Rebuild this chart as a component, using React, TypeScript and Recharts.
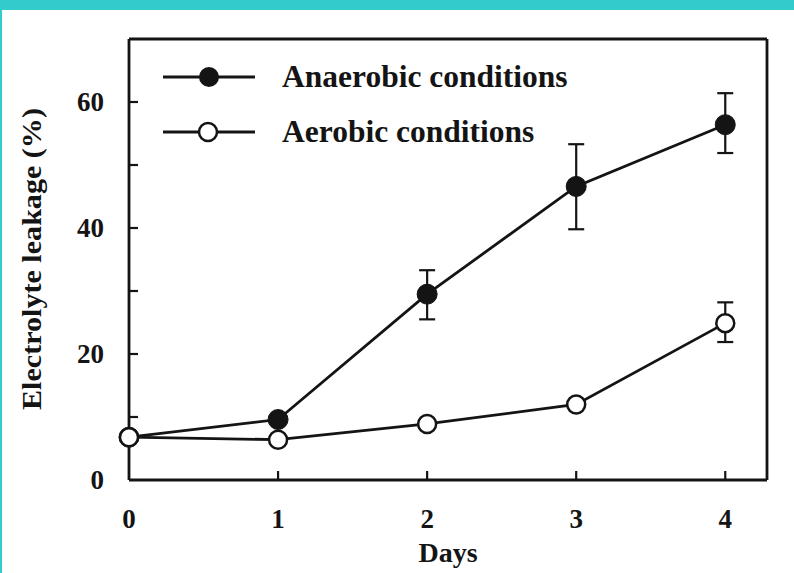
import React from 'react';
import { LineChart, Line, XAxis, YAxis, ErrorBar, ReferenceLine } from 'recharts';

const days = [0, 1, 2, 3, 4];
const anaerobic = [6.8, 9.6, 29.5, 46.6, 56.4];
const anaerobicErr: [number, number][] = [[0, 0], [0, 0], [4, 3.8], [6.8, 6.7], [4.5, 5]];
const aerobic = [6.8, 6.4, 8.9, 12.0, 24.9];
const aerobicErr: [number, number][] = [[0, 0], [0, 0], [0, 0], [0, 0], [3, 3.3]];
const xTicks = [0, 1, 2, 3, 4];
const yTicks = [0, 10, 20, 30, 40, 50, 60];
const yLabelTicks = [0, 20, 40, 60];
const X_MAX = 4.28;
const Y_MAX = 70;

const data = days.map((d, i) => ({
  day: d,
  anaerobic: anaerobic[i],
  anaerobicErr: anaerobicErr[i],
  aerobic: aerobic[i],
  aerobicErr: aerobicErr[i],
}));

const FONT = '"Liberation Serif", "Times New Roman", serif';
const INK = '#141414';

const XTick = (props: any) => {
  const { x, y, payload } = props;
  return (
    <g>
      {payload.value !== 0 && (
        <line x1={x} x2={x} y1={y} y2={y - 9} stroke={INK} strokeWidth={2.2} />
      )}
      <text x={x} y={y + 48} textAnchor="middle" fontFamily={FONT} fontWeight="bold" fontSize={27} fill={INK}>
        {payload.value}
      </text>
    </g>
  );
};

const YTick = (props: any) => {
  const { x, y, payload } = props;
  const showLabel = yLabelTicks.includes(payload.value);
  return (
    <g>
      {payload.value !== 0 && (
        <line x1={x} x2={x + 9} y1={y} y2={y} stroke={INK} strokeWidth={2.2} />
      )}
      {showLabel && (
        <text x={x - 25} y={y + 9} textAnchor="end" fontFamily={FONT} fontWeight="bold" fontSize={27} fill={INK}>
          {payload.value}
        </text>
      )}
    </g>
  );
};

const OpenDot = (props: any) => {
  const { cx, cy } = props;
  if (cx == null || cy == null) return null;
  return <circle cx={cx} cy={cy} r={9} fill="#fff" stroke={INK} strokeWidth={2.5} />;
};

const FilledDot = (props: any) => {
  const { cx, cy } = props;
  if (cx == null || cy == null) return null;
  return <circle cx={cx} cy={cy} r={10} fill={INK} stroke={INK} strokeWidth={1} />;
};

const LegendBox = () => (
  <svg width={470} height={110} style={{ position: 'absolute', left: 120, top: 50 }}>
    <line x1={43} x2={135} y1={27} y2={27} stroke={INK} strokeWidth={2.8} />
    <circle cx={89} cy={27} r={10} fill={INK} />
    <text x={162} y={37} fontFamily={FONT} fontWeight="bold" fontSize={31.5} fill={INK}>Anaerobic conditions</text>
    <line x1={43} x2={135} y1={82} y2={82} stroke={INK} strokeWidth={2.8} />
    <circle cx={88} cy={82} r={9} fill="#fff" stroke={INK} strokeWidth={2.5} />
    <text x={162} y={92} fontFamily={FONT} fontWeight="bold" fontSize={31.5} fill={INK}>Aerobic conditions</text>
  </svg>
);

export default function App() {
  return (
    <div style={{ position: 'absolute', left: 0, top: 0, width: 794, height: 573, background: '#33cccc' }}>
      <div style={{ position: 'absolute', left: 2, top: 10, width: 792, height: 563, background: '#fff' }} />
      <div style={{ position: 'absolute', left: 0, top: 0 }}>
        <LineChart width={794} height={573} data={data} margin={{ top: 39, right: 27, bottom: 0, left: 0 }}>
          <XAxis
            dataKey="day"
            type="number"
            domain={[0, X_MAX]}
            ticks={xTicks}
            height={93}
            axisLine={{ stroke: INK, strokeWidth: 2.8 }}
            tickLine={false}
            tickSize={0}
            tickMargin={0}
            tick={<XTick />}
            interval={0}
            label={({ viewBox }: any) => (
              <text x={viewBox.x + viewBox.width / 2} y={viewBox.y + 82} textAnchor="middle" fontFamily={FONT} fontWeight="bold" fontSize={28} fill={INK}>
                Days
              </text>
            )}
          />
          <YAxis
            type="number"
            domain={[0, Y_MAX]}
            ticks={yTicks}
            width={129}
            axisLine={{ stroke: INK, strokeWidth: 2.8 }}
            tickLine={false}
            tickSize={0}
            tickMargin={0}
            tick={<YTick />}
            interval={0}
            label={() => {
              const cx = 31;
              const cy = 259;
              return (
                <text x={cx} y={cy} transform={`rotate(-90 ${cx} ${cy})`} textAnchor="middle" dominantBaseline="central" fontFamily={FONT} fontWeight="bold" fontSize={28} textLength={302} lengthAdjust="spacingAndGlyphs" fill={INK}>
                  Electrolyte leakage (%)
                </text>
              );
            }}
          />
          <ReferenceLine y={Y_MAX} stroke={INK} strokeWidth={2.8} ifOverflow="visible" />
          <ReferenceLine x={X_MAX} stroke={INK} strokeWidth={2.8} ifOverflow="visible" />
          <Line dataKey="anaerobic" stroke={INK} strokeWidth={2.8} dot={<FilledDot />} activeDot={false} isAnimationActive={false}>
            <ErrorBar dataKey="anaerobicErr" width={8} stroke={INK} strokeWidth={2.2} direction="y" />
          </Line>
          <Line dataKey="aerobic" stroke={INK} strokeWidth={2.8} dot={<OpenDot />} activeDot={false} isAnimationActive={false}>
            <ErrorBar dataKey="aerobicErr" width={8} stroke={INK} strokeWidth={2.2} direction="y" />
          </Line>
        </LineChart>
      </div>
      <LegendBox />
    </div>
  );
}
